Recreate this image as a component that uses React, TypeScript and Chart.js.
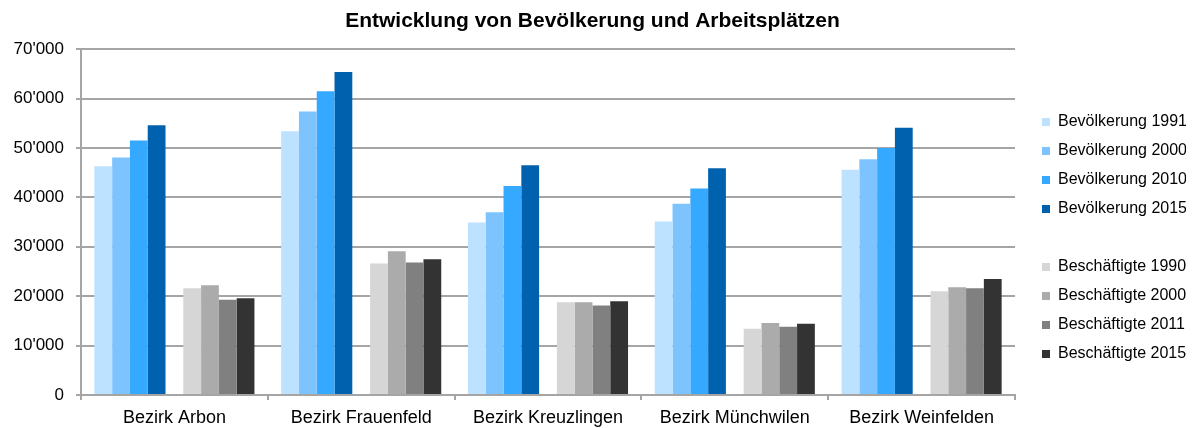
import React, { useEffect, useRef } from "react";
import { Chart, registerables } from "chart.js";

Chart.register(...registerables);

const categories = [
  "Bezirk Arbon",
  "Bezirk Frauenfeld",
  "Bezirk Kreuzlingen",
  "Bezirk Münchwilen",
  "Bezirk Weinfelden",
];

const bev1991 = [46300, 53400, 34900, 35100, 45600];
const bev2000 = [48100, 57400, 37000, 38700, 47700];
const bev2010 = [51500, 61500, 42300, 41800, 50000];
const bev2015 = [54600, 65400, 46500, 45900, 54100];

const besch1990 = [21600, 26600, 18800, 13400, 21000];
const besch2000 = [22200, 29100, 18800, 14600, 21800];
const besch2011 = [19300, 26800, 18100, 13800, 21600];
const besch2015 = [19600, 27500, 19000, 14400, 23500];

const yTicks = [0, 10000, 20000, 30000, 40000, 50000, 60000, 70000];

const FONT = "'Liberation Sans', Arial, sans-serif";
const GRID = "#a5a5a5";

const formatTick = (v: number) => {
  if (v === 0) return "0";
  const th = Math.floor(v / 1000);
  const rest = String(v % 1000).padStart(3, "0");
  return `${th}'${rest}`;
};

const legendTweak = {
  id: "legendTweak",
  beforeInit(chart: any) {
    const lg = chart.legend;
    if (!lg) return;
    const origFit = lg.fit.bind(lg);
    lg.fit = function () {
      origFit();
      this.width = 157;
    };
    const origDraw = lg.draw.bind(lg);
    lg.draw = function () {
      const ctx = chart.ctx;
      ctx.save();
      ctx.translate(14, 101);
      origDraw();
      ctx.restore();
    };
  },
};

export default function App() {
  const ref = useRef<HTMLCanvasElement | null>(null);

  useEffect(() => {
    if (!ref.current) return;
    const mk = (label: string, data: (number | null)[], color: string) => ({
      label,
      data,
      backgroundColor: color,
      borderWidth: 0,
      barPercentage: 1,
      categoryPercentage: 0.857,
    });
    const chart = new Chart(ref.current, {
      type: "bar",
      data: {
        labels: categories,
        datasets: [
          mk("Bevölkerung 1991", bev1991, "#bde2ff"),
          mk("Bevölkerung 2000", bev2000, "#7dc4ff"),
          mk("Bevölkerung 2010", bev2010, "#35a8ff"),
          mk("Bevölkerung 2015", bev2015, "#0062ae"),
          mk("", categories.map(() => null), "rgba(0,0,0,0)"),
          mk("Beschäftigte 1990", besch1990, "#d6d6d6"),
          mk("Beschäftigte 2000", besch2000, "#ababab"),
          mk("Beschäftigte 2011", besch2011, "#808080"),
          mk("Beschäftigte 2015", besch2015, "#333333"),
        ],
      },
      options: {
        responsive: false,
        animation: false,
        devicePixelRatio: 1,
        layout: { padding: { left: 13, right: 23, top: 0, bottom: 1 } },
        plugins: {
          title: {
            display: true,
            text: "Entwicklung von Bevölkerung und Arbeitsplätzen",
            color: "#000",
            font: { family: FONT, size: 21, weight: "bold" },
            padding: { top: 9, bottom: 15 },
          },
          legend: {
            position: "right",
            align: "start",
            labels: {
              color: "#000",
              font: { family: FONT, size: 16 },
              boxWidth: 8,
              boxHeight: 8,
              padding: 13,
            },
          },
          tooltip: { enabled: false },
        },
        scales: {
          x: {
            afterFit: (axis: any) => {
              axis.height = 32;
            },
            grid: {
              offset: true,
              drawOnChartArea: false,
              drawTicks: true,
              tickLength: 5,
              color: GRID,
              lineWidth: 2,
            },
            border: { color: GRID, width: 2 },
            ticks: {
              color: "#000",
              font: { family: FONT, size: 18 },
              padding: 7,
              maxRotation: 0,
            },
          },
          y: {
            min: 0,
            max: 70000,
            afterBuildTicks: (axis: any) => {
              axis.ticks = yTicks.map((v) => ({ value: v }));
            },
            afterFit: (axis: any) => {
              axis.width = 68;
            },
            grid: {
              drawTicks: true,
              tickLength: 5,
              color: GRID,
              lineWidth: 2,
            },
            border: { color: GRID, width: 2 },
            ticks: {
              color: "#000",
              font: { family: FONT, size: 17 },
              padding: 12,
              callback: (v: any) => formatTick(Number(v)),
            },
          },
        },
      },
      plugins: [legendTweak],
    } as any);
    return () => chart.destroy();
  }, []);

  return (
    <div style={{ position: "fixed", left: 0, top: 0, width: 1195, height: 428, background: "#fff" }}>
      <canvas ref={ref} width={1195} height={428} style={{ display: "block" }} />
    </div>
  );
}
